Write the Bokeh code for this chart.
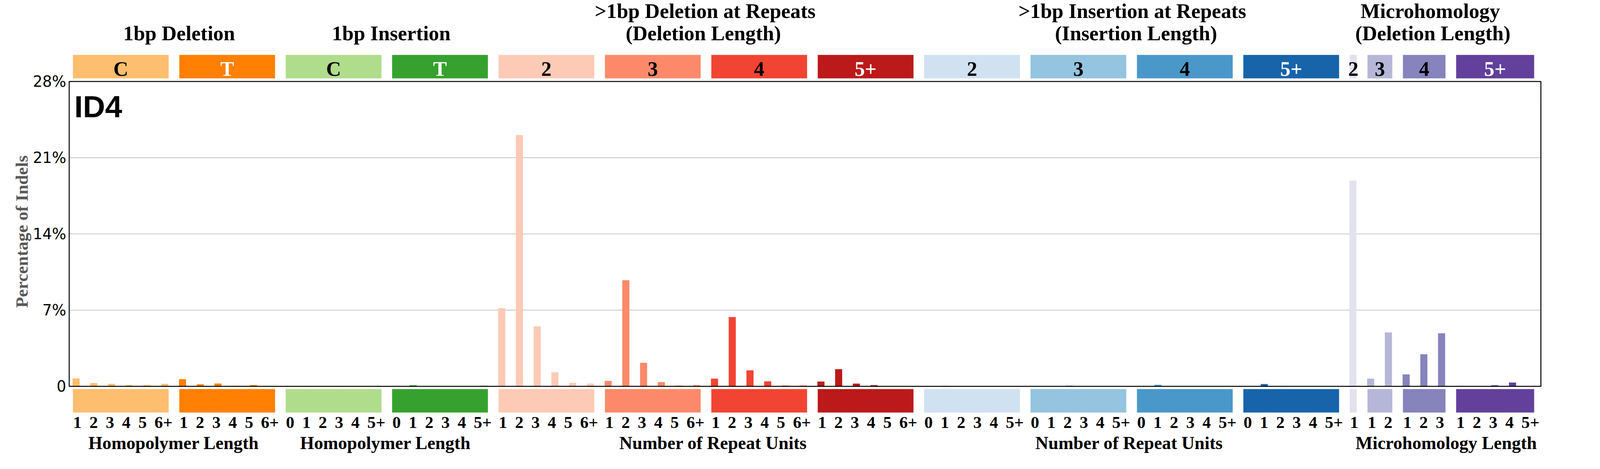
from bokeh.plotting import figure
from bokeh.models import ColumnDataSource, Range1d, FixedTicker
from bokeh.core.properties import value
from bokeh.embed import file_html
from bokeh.resources import INLINE

# ---------------- data (percentage of indels) ----------------
del1_C = [0.73, 0.30, 0.23, 0.12, 0.12, 0.23]
del1_T = [0.66, 0.19, 0.26, 0.05, 0.12, 0.02]
ins1_C = [0.01, 0.03, 0.01, 0.03, 0.01, 0.04]
ins1_T = [0.03, 0.10, 0.01, 0.01, 0.01, 0.06]
del_rep_2 = [7.18, 23.08, 5.51, 1.29, 0.32, 0.25]
del_rep_3 = [0.50, 9.75, 2.16, 0.39, 0.07, 0.11]
del_rep_4 = [0.71, 6.36, 1.47, 0.46, 0.07, 0.07]
del_rep_5 = [0.44, 1.58, 0.25, 0.11, 0.01, 0.01]
ins_rep_2 = [0.02, 0.07, 0.02, 0.01, 0.00, 0.00]
ins_rep_3 = [0.00, 0.04, 0.08, 0.00, 0.00, 0.00]
ins_rep_4 = [0.00, 0.14, 0.00, 0.00, 0.00, 0.00]
ins_rep_5 = [0.00, 0.21, 0.03, 0.00, 0.00, 0.00]
mh_2 = [18.90]
mh_3 = [0.71, 4.95]
mh_4 = [1.10, 2.94, 4.87]
mh_5 = [0.04, 0.00, 0.10, 0.35, 0.00]

series = [del1_C, del1_T, ins1_C, ins1_T,
          del_rep_2, del_rep_3, del_rep_4, del_rep_5,
          ins_rep_2, ins_rep_3, ins_rep_4, ins_rep_5,
          mh_2, mh_3, mh_4, mh_5]

group_colors = ["#FDBE6F", "#FF8002", "#B0DD8B", "#36A12E",
                "#FDCAB5", "#FC8A6A", "#F14432", "#BC191A",
                "#D0E1F2", "#94C4DF", "#4A98C9", "#1764AB",
                "#E2E2EF", "#B6B6D8", "#8683BD", "#62409B"]

box_labels = ["C", "T", "C", "T", "2", "3", "4", "5+", "2", "3", "4", "5+", "2", "3", "4", "5+"]
box_label_colors = ["black", "white", "black", "white",
                    "black", "black", "black", "white",
                    "black", "black", "black", "white",
                    "black", "black", "black", "white"]

ticks_del1 = ["1", "2", "3", "4", "5", "6+"]
ticks_ins1 = ["0", "1", "2", "3", "4", "5+"]
ticks_del_rep = ["1", "2", "3", "4", "5", "6+"]
ticks_ins_rep = ["0", "1", "2", "3", "4", "5+"]
ticks_mh_2 = ["1"]
ticks_mh_3 = ["1", "2"]
ticks_mh_4 = ["1", "2", "3"]
ticks_mh_5 = ["1", "2", "3", "4", "5+"]
group_ticks = [ticks_del1, ticks_del1, ticks_ins1, ticks_ins1,
               ticks_del_rep, ticks_del_rep, ticks_del_rep, ticks_del_rep,
               ticks_ins_rep, ticks_ins_rep, ticks_ins_rep, ticks_ins_rep,
               ticks_mh_2, ticks_mh_3, ticks_mh_4, ticks_mh_5]

title_lines = ["1bp Deletion", "1bp Insertion",
               ">1bp Deletion at Repeats", "(Deletion Length)",
               ">1bp Insertion at Repeats", "(Insertion Length)",
               "Microhomology", "(Deletion Length)"]
title_x = [5.81, 17.77, 35.47, 35.37, 59.56, 59.77, 76.36, 76.51]
title_row = [2, 2, 1, 2, 1, 2, 1, 2]

xlabels = ["Homopolymer Length", "Homopolymer Length", "Number of Repeat Units",
           "Number of Repeat Units", "Microhomology Length"]
xlabel_x = [5.50, 17.44, 35.92, 59.38, 77.26]

y_ticks = [0, 7, 14, 21, 28]
y_tick_labels = ["0", "7%", "14%", "21%", "28%"]

signature_name = "ID4"

# ---------------- geometry ----------------
FX = 4393 / 4096            # horizontal stretch seen in the photograph
FS = 0.96                   # font compromise for that stretch
PX_X = 48.69                # photographed px per category
PX_Y = 27.857               # px per percent
X0_REF, Y0_REF = 217.0, 996.0
W = 4096 - 16
H = 1200 - 16
BORDER_L = int(round(194 / FX - 8))
x_lo = ((BORDER_L + 8) * FX - X0_REF) / PX_X
x_hi = ((W + 8) * FX - X0_REF) / PX_X
y_hi = (Y0_REF - 8) / PX_Y
y_lo = (Y0_REF - (H + 8)) / PX_Y
BASE_SHIFT = 0.25           # text baseline correction, in em


def fpx(px):
    return px * FS


def fs(px):
    return f"{fpx(px):.1f}px"


def ty(y, px):
    return y + BASE_SHIFT * fpx(px) / PX_Y


# ---------------- build sources ----------------
bx, btop, bcol = [], [], []
q_left, q_right, q_col = [], [], []
bl_x, bl_text, bl_col = [], [], []
tk_x, tk_text = [], []
start = 0
for vals, col, lab, lcol, tks in zip(series, group_colors, box_labels, box_label_colors, group_ticks):
    n = len(vals)
    for i, v in enumerate(vals):
        bx.append(start + i)
        btop.append(v)
        bcol.append(col)
    q_left.append(start - 0.18)
    q_right.append(start + n - 1 + 0.22)
    q_col.append(col)
    bl_x.append(start + (n - 1) / 2 + 0.02)
    bl_text.append(lab)
    bl_col.append(lcol)
    for k, t in enumerate(tks):
        pos = start + 0.07 + 0.92 * k
        if t.endswith("+"):
            pos += 0.26
        tk_x.append(pos)
        tk_text.append(t)
    start += n

bars = ColumnDataSource(dict(x=bx, top=btop, color=bcol))
boxes = ColumnDataSource(dict(left=q_left, right=q_right, color=q_col))
boxlab = ColumnDataSource(dict(x=bl_x, text=bl_text, color=bl_col))
ticklab = ColumnDataSource(dict(x=tk_x, text=tk_text))

# ---------------- figure ----------------
XL, XR = -0.39, 82.60   # frame edges in category units
p = figure(width=W, height=H,
           x_range=Range1d(x_lo, x_hi), y_range=Range1d(y_lo, y_hi),
           x_axis_location=None, output_backend="svg", toolbar_location=None,
           min_border_left=BORDER_L, min_border_right=0, min_border_top=0, min_border_bottom=0)
p.outline_line_color = None
p.xgrid.visible = False
p.ygrid.visible = False

yax = p.yaxis[0]
yax.ticker = FixedTicker(ticks=y_ticks)
yax.major_label_overrides = {t: s for t, s in zip(y_ticks, y_tick_labels)}
yax.major_label_text_font = "DejaVu Sans"
yax.major_label_text_font_size = fs(40)
yax.major_label_text_color = "black"
yax.major_tick_line_color = None
yax.minor_tick_line_color = None
yax.major_tick_out = 0
yax.major_tick_in = 0
yax.minor_tick_out = 0
yax.axis_line_color = None
yax.major_label_standoff = 4
yax.axis_label = "Percentage of Indels"
yax.axis_label_text_font = "Liberation Serif"
yax.axis_label_text_font_style = "bold"
yax.axis_label_text_font_size = fs(47)
yax.axis_label_text_color = "#595959"
yax.axis_label_standoff = 0

# grid lines inside frame
gy = [t for t in y_ticks if 0 < t < 28]
p.segment(x0=[XL] * len(gy), x1=[XR] * len(gy), y0=gy, y1=gy, line_color="#b3b3b3", line_width=1.4)

# bars
p.vbar(x="x", top="top", bottom=0, width=0.4, fill_color="color", line_color=None, source=bars)

# frame
p.quad(left=[XL], right=[XR], bottom=[0], top=[28], fill_color=None, line_color="black", line_width=2.5)

# category boxes
p.quad(left="left", right="right", bottom=28.29, top=30.44, fill_color="color", line_color=None, source=boxes)
p.quad(left="left", right="right", bottom=-2.405, top=-0.251, fill_color="color", line_color=None, source=boxes)

serif = value("Liberation Serif")
p.text(x="x", y=ty(28.68, 55), text="text", text_color="color", text_font=serif, text_font_style="bold",
       text_font_size=value(fs(55)), text_align="center", text_baseline="alphabetic", source=boxlab)
p.text(x="x", y=ty(-3.697, 45), text="text", text_color="black", text_font=serif, text_font_style="bold",
       text_font_size=value(fs(45)), text_align="center", text_baseline="alphabetic", source=ticklab)

row_y = {1: 33.99, 2: 31.95}
p.text(x=title_x, y=[ty(row_y[r], 55) for r in title_row], text=title_lines, text_color="black",
       text_font=serif, text_font_style="bold", text_font_size=value(fs(55)),
       text_align="center", text_baseline="alphabetic")
p.text(x=xlabel_x, y=[ty(-5.636, 48)] * len(xlabels), text=xlabels, text_color="black",
       text_font=serif, text_font_style="bold", text_font_size=value(fs(48)),
       text_align="center", text_baseline="alphabetic")

p.text(x=[-0.10], y=[ty(24.98, 82)], text=[signature_name], text_color="black",
       text_font=value("Liberation Sans"), text_font_style="bold", text_font_size=value(fs(82)),
       text_align="left", text_baseline="alphabetic")

open("out.html", "w").write(file_html(p, INLINE))
